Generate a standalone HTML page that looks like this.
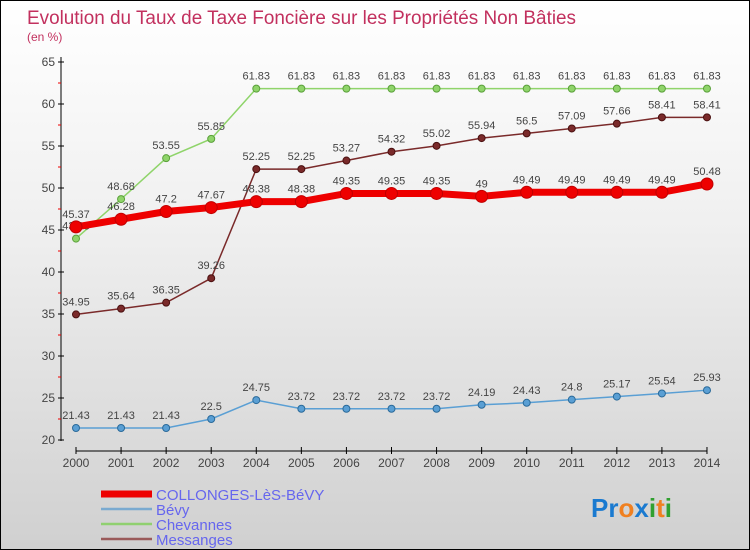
<!DOCTYPE html>
<html><head><meta charset="utf-8"><style>
body{margin:0}
#c{width:748px;height:548px;border:1px solid #000;background:linear-gradient(#fff 0%,#f0f0f0 40%,#d0d0d0 100%);position:relative;overflow:hidden;font-family:"Liberation Sans",sans-serif}
</style></head><body>
<div id="c">
<svg id="s" width="748" height="548">
<text x="26" y="23" font-size="19" fill="#c2305e" textLength="549" lengthAdjust="spacingAndGlyphs">Evolution du Taux de Taxe Foncière sur les Propriétés Non Bâties</text>
<text x="26" y="40" font-size="12" fill="#c2305e">(en %)</text>
<text x="590" y="516" font-size="26" font-weight="bold"><tspan fill="#1a7ad0">Pr</tspan><tspan fill="#f08020">o</tspan><tspan fill="#1a7ad0">x</tspan><tspan fill="#30a030">i</tspan><tspan fill="#f08020">t</tspan><tspan fill="#30a030">i</tspan></text>
</svg>
</div>
<script>
const years=[2000,2001,2002,2003,2004,2005,2006,2007,2008,2009,2010,2011,2012,2013,2014];
const collonges=[45.37,46.28,47.2,47.67,48.38,48.38,49.35,49.35,49.35,49,49.49,49.49,49.49,49.49,50.48];
const bevy=[21.43,21.43,21.43,22.5,24.75,23.72,23.72,23.72,23.72,24.19,24.43,24.8,25.17,25.54,25.93];
const chevannes=[43.98,48.68,53.55,55.85,61.83,61.83,61.83,61.83,61.83,61.83,61.83,61.83,61.83,61.83,61.83];
const messanges=[34.95,35.64,36.35,39.26,52.25,52.25,53.27,54.32,55.02,55.94,56.5,57.09,57.66,58.41,58.41];
const yTicks=[20,25,30,35,40,45,50,55,60,65];
const svg=document.getElementById('s');const NS='http://www.w3.org/2000/svg';
function X(i){return 75+i*45.07;}
function Y(v){return 439-(v-20)*8.4;}
function el(t,a,p){const e=document.createElementNS(NS,t);for(const k in a)e.setAttribute(k,a[k]);(p||svg).appendChild(e);return e;}
let ax=el('line',{x1:60,y1:56,x2:60,y2:440,stroke:'#000'});


yTicks.forEach(v=>{el('line',{x1:57,x2:63,y1:Y(v),y2:Y(v),stroke:'#000'});
if(v<65)el('line',{x1:57,x2:60,y1:Y(v+2.5),y2:Y(v+2.5),stroke:'#e00'});
const t=el('text',{x:54,y:Y(v)+4,'font-size':12,fill:'#444','text-anchor':'end'});t.textContent=v;

});
let xa=el('line',{x1:75,y1:450,x2:706,y2:450,stroke:'#000'});


years.forEach((y,i)=>{el('line',{x1:X(i),x2:X(i),y1:446,y2:453,stroke:'#000'});
const t=el('text',{x:X(i),y:466,'font-size':12,fill:'#444','text-anchor':'middle'});t.textContent=y;

});
function series(data,color,w,r,name,dark){
const g=el('g',{});


el('polyline',{points:data.map((v,i)=>X(i)+','+Y(v)).join(' '),fill:'none',stroke:color,'stroke-width':w},g);
data.forEach((v,i)=>{const c=el('circle',{cx:X(i),cy:Y(v),r:r,fill:color,stroke:dark,'stroke-width':1},g);


const t=el('text',{x:X(i),y:Y(v)-9,'font-size':11,fill:'#444','text-anchor':'middle'},g);t.textContent=v;});}
series(bevy,'#5a9fd4',1.5,3.5,'bevy','#2a6a9a');
series(chevannes,'#8fd46a',1.5,3.5,'chevannes','#5aa03a');
series(messanges,'#7a2a2a',1.5,3.5,'messanges','#4a1010');
series(collonges,'#ee0000',7,6,'collonges','#c00000');
const leg=[['COLLONGES-LèS-BéVY','#ee0000',7],['Bévy','#7aaad0',2.5],['Chevannes','#90d070',2.5],['Messanges','#9a5a5a',2.5]];
leg.forEach((l,i)=>{const yy=493+i*15;
const g=el('g',{});


el('line',{x1:100,x2:151,y1:yy,y2:yy,stroke:l[1],'stroke-width':l[2]},g);
const t=el('text',{x:155,y:yy+6,'font-size':15,fill:'#6666ee'},g);t.textContent=l[0];});
</script>
</body></html>
